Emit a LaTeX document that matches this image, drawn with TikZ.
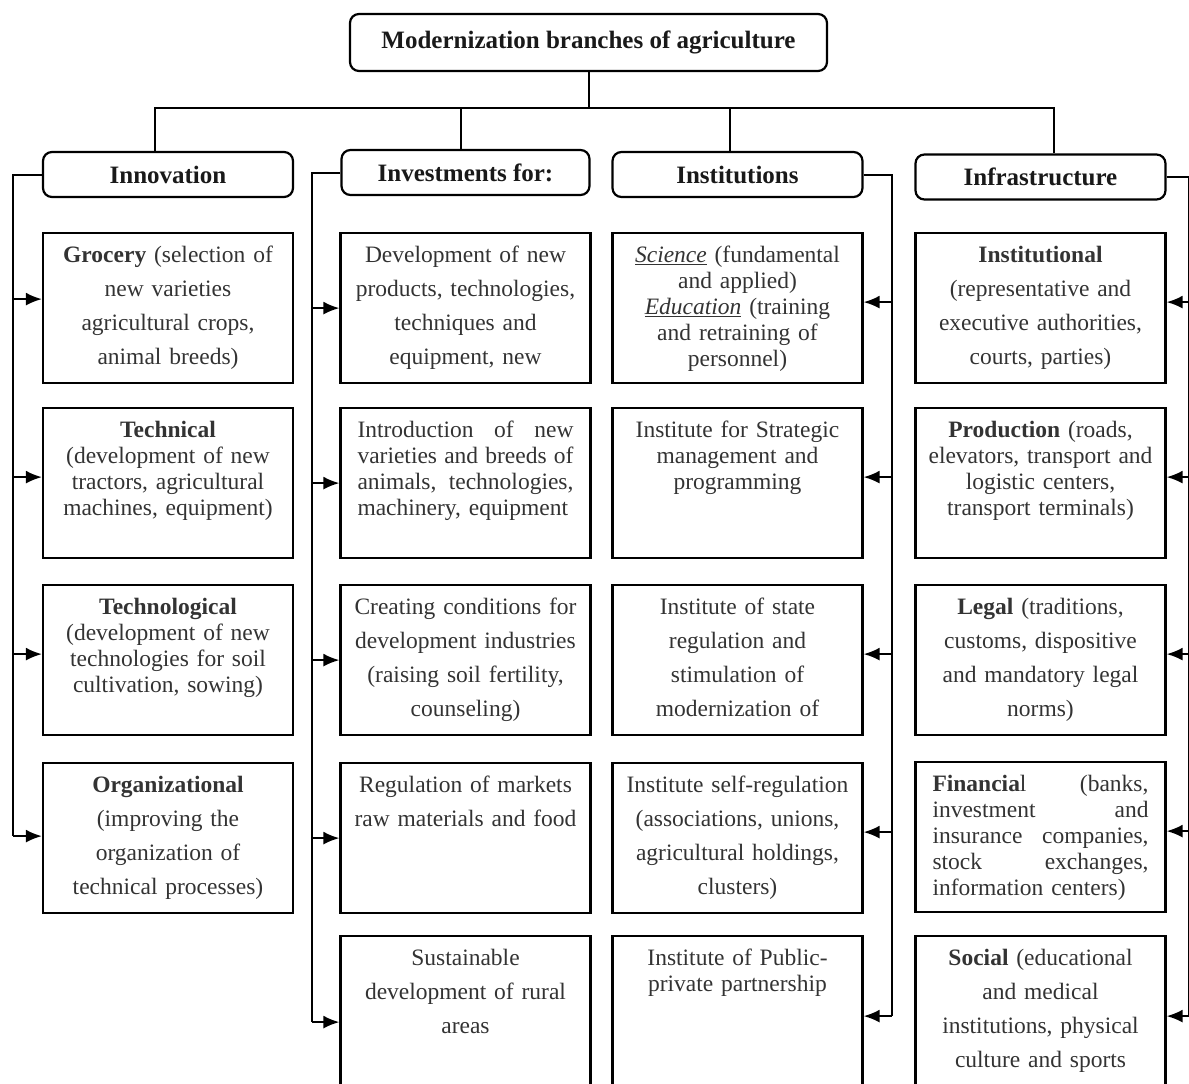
\documentclass[tikz,border=0pt]{standalone}
\usepackage{fontspec}
\setmainfont{Liberation Serif}
\usetikzlibrary{arrows.meta}

\tikzset{
  head/.style={draw, line width=2.2pt, rounded corners=9pt, minimum width=250pt,
    minimum height=45pt, inner sep=0pt, text=black!90, font=\fontsize{25}{30}\selectfont\bfseries},
  cell/.style={draw, line width=2.2pt, anchor=north, inner xsep=8pt, inner ysep=9pt, text=black!80,
    text width=234pt, align=center, text height=20pt, text depth=112pt},
  lastrow/.style={text depth=134pt},
  wide/.style={font=\fontsize{23.5}{34}\selectfont},
  tight/.style={font=\fontsize{23.5}{26}\selectfont},
  just/.style={align=left, inner xsep=17pt, text width=216pt},
  line/.style={line width=2pt},
  arr/.style={line width=2pt, -{Latex[length=16pt,width=13pt]}}
}

\begin{document}
\begin{tikzpicture}[x=1pt,y=-1pt]
  \useasboundingbox (0,0) rectangle (1189,1084);
  \clip (0,0) rectangle (1189,1084);

  % top and the four branches
  \node[head, minimum width=477pt, minimum height=57pt] (title) at (588.5,42.5) {Modernization branches of agriculture};
  \node[head] (innov) at (168,174.5) {Innovation};
  \node[head, minimum width=248pt] (inv) at (465.5,172.5) {Investments for:};
  \node[head] (inst) at (737.5,174.5) {Institutions};
  \node[head] (infra) at (1040.5,177) {Infrastructure};

  \coordinate (jn) at (589,108);
  \draw[line] (title.south) -- (title.south |- jn);
  \draw[line] ([xshift=-13pt]innov.north) |- (jn) -| ([xshift=13pt]infra.north);
  \draw[line] ([xshift=-5pt]inv.north) |- (jn);
  \draw[line] ([xshift=-8pt]inst.north) |- (jn);

  % Innovation
  \node[cell, wide] (gro) at (168,232) {\textbf{Grocery} (selection of\\ new varieties\\ agricultural crops,\\ animal breeds)};
  \node[cell, tight] (tec) at (168,407) {\textbf{Technical}\\ (development of new\\ tractors, agricultural\\ machines, equipment)};
  \node[cell, tight] (tgl) at (168,584) {\textbf{Technological}\\ (development of new\\ technologies for soil\\ cultivation, sowing)};
  \node[cell, wide] (org) at (168,762) {\textbf{Organizational}\\ (improving the\\ organization of\\ technical processes)};

  % Investments for
  \node[cell, wide] (dev) at (465.5,232) {Development of new\\ products, technologies,\\ techniques and\\ equipment, new};
  \node[cell, tight, just] (intr) at (465.5,407) {Introduction\hfill of\hfill new\\ varieties\hfill and\hfill breeds\hfill of\\ animals,\hfill technologies,\\ machinery, equipment};
  \node[cell, wide] (cre) at (465.5,584) {Creating conditions for\\ development industries\\ (raising soil fertility,\\ counseling)};
  \node[cell, wide] (reg) at (465.5,762) {Regulation of markets\\ raw materials and food};
  \node[cell, wide, lastrow] (sus) at (465.5,935) {Sustainable\\ development of rural\\ areas};

  % Institutions
  \node[cell, tight] (sci) at (737.5,232) {\underline{\textit{Science}} (fundamental\\ and applied)\\ \underline{\textit{Education}} (training\\ and retraining of\\ personnel)};
  \node[cell, tight] (str) at (737.5,407) {Institute for Strategic\\ management and\\ programming};
  \node[cell, wide] (sta) at (737.5,584) {Institute of state\\ regulation and\\ stimulation of\\ modernization of};
  \node[cell, wide] (slf) at (737.5,762) {Institute self-regulation\\ (associations, unions,\\ agricultural holdings,\\ clusters)};
  \node[cell, tight, lastrow] (ppp) at (737.5,935) {Institute of Public-\\ private partnership};

  % Infrastructure
  \node[cell, wide] (itl) at (1040.5,232) {\textbf{Institutional}\\ (representative and\\ executive authorities,\\ courts, parties)};
  \node[cell, tight] (pro) at (1040.5,407) {\textbf{Production} (roads,\\ elevators, transport and\\ logistic centers,\\ transport terminals)};
  \node[cell, wide] (leg) at (1040.5,584) {\textbf{Legal} (traditions,\\ customs, dispositive\\ and mandatory legal\\ norms)};
  \node[cell, tight, just] (fin) at (1040.5,761) {\textbf{Financia}l\hfill (banks,\\ investment\hfill and\\ insurance\hfill companies,\\ stock\hfill exchanges,\\ information centers)};
  \node[cell, wide, lastrow] (soc) at (1040.5,935) {\textbf{Social} (educational\\ and medical\\ institutions, physical\\ culture and sports};

  % side buses
  \draw[line] (innov.west) -| ([xshift=-29pt,yshift=2pt]org.west);
  \foreach \b/\s in {gro/9,tec/6,tgl/6,org/2}
    \draw[arr] ([xshift=-29pt,yshift=\s pt]\b.west) -- ([yshift=\s pt]\b.west);

  \draw[line] (inv.west) -| ([xshift=-27pt]sus.west);
  \foreach \b in {dev,intr,cre,reg,sus}
    \draw[arr] ([xshift=-27pt]\b.west) -- (\b.west);

  \draw[line] (inst.east) -| ([xshift=28pt,yshift=6pt]ppp.east);
  \foreach \b in {sci,str,sta,slf,ppp}
    \draw[arr] ([xshift=28pt,yshift=6pt]\b.east) -- ([yshift=6pt]\b.east);

  \draw[line] (infra.east) -| ([xshift=22pt,yshift=6pt]soc.east);
  \foreach \b in {itl,pro,leg,fin,soc}
    \draw[arr] ([xshift=22pt,yshift=6pt]\b.east) -- ([yshift=6pt]\b.east);
\end{tikzpicture}
\end{document}
